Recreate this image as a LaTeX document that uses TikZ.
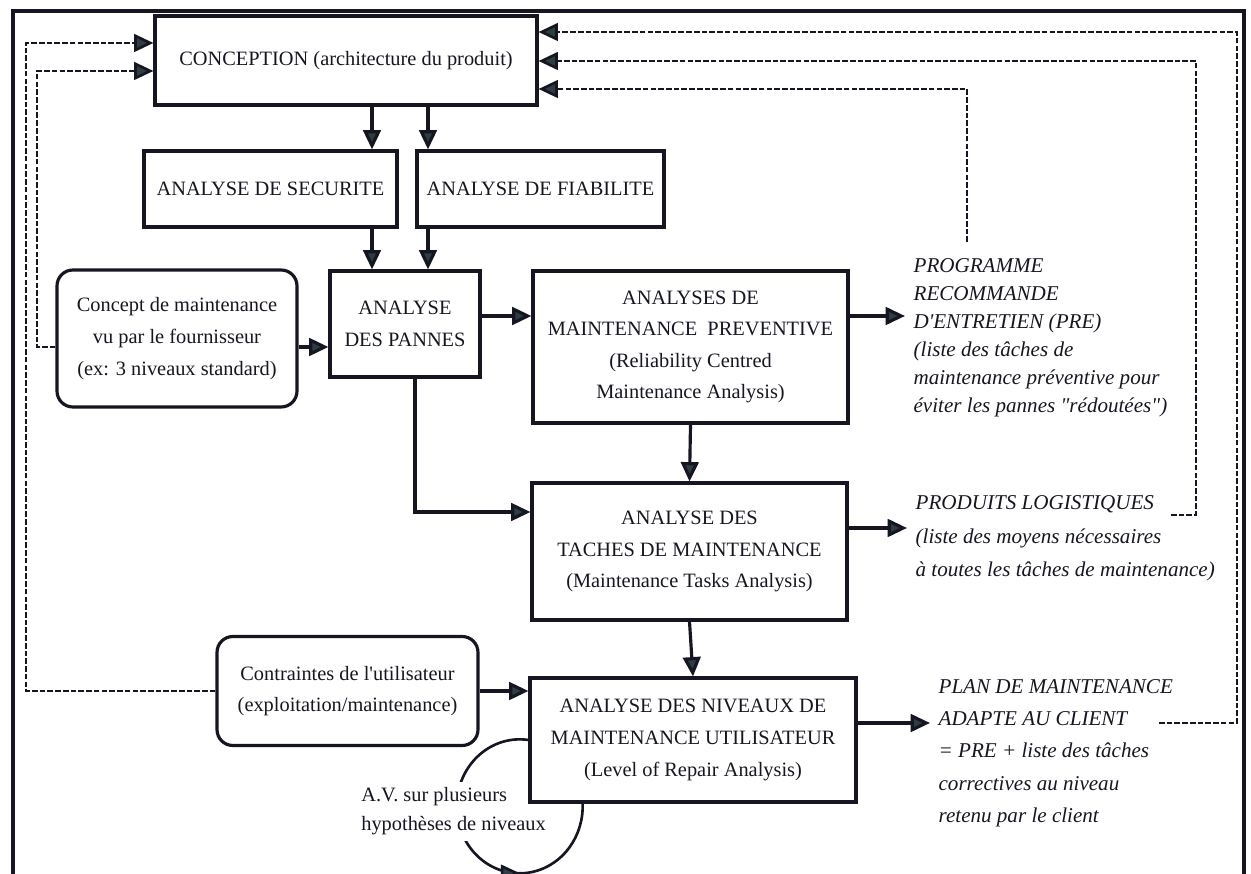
\documentclass[tikz,border=0pt]{standalone}
\usepackage{fontspec}
\setmainfont{Liberation Serif}
\usepackage{tikz}
\usetikzlibrary{arrows.meta,decorations.markings}

\definecolor{tipfill}{RGB}{45,62,64}
\definecolor{ink}{RGB}{22,22,34}
\newcommand{\boxfont}{\fontsize{11.6}{18}\selectfont}

\begin{document}
\begin{tikzpicture}[->,>={Triangle[length=11pt,width=10pt,fill=tipfill]},
    x=0.02cm,y=0.02cm,line width=1.8pt,color=ink,
    box/.style={draw,rectangle,align=center,font=\boxfont,inner sep=2pt},
    softbox/.style={box,rounded corners=9pt},
    note/.style={anchor=west,align=left,inner xsep=4pt,inner ysep=0pt,
        font=\fontsize{12}{#1}\selectfont\itshape},
    feedback/.style={dash pattern=on 3.2pt off 1.2pt,line width=1.5pt}]

  \useasboundingbox (0,0) rectangle (1251,-874);
  \draw[-] (13,-880) -- (13,-11) -- (1244,-11) -- (1244,-880);

  % boxes
  \node[box,minimum width=7.64cm,minimum height=1.78cm] (concep) at (346,-60.5)
        {CONCEPTION (architecture du produit)};
  \node[box,minimum width=5.06cm,minimum height=1.52cm] (secur) at (270.5,-189) {ANALYSE DE SECURITE};
  \node[box,minimum width=4.94cm,minimum height=1.52cm] (fiab) at (540.5,-189) {ANALYSE DE FIABILITE};
  \node[box,minimum width=3.0cm,minimum height=2.12cm] (pannes) at (405,-324) {ANALYSE\\DES PANNES};
  \node[softbox,minimum width=4.8cm,minimum height=2.74cm] (concept) at (177,-338.5)
        {Concept de maintenance\\vu par le fournisseur\\(ex: 3 niveaux standard)};
  \node[box,minimum width=6.3cm,minimum height=3.04cm] (prev) at (690.5,-347)
        {ANALYSES DE\\MAINTENANCE~~PREVENTIVE\\(Reliability Centred\\Maintenance Analysis)};
  \node[box,minimum width=6.3cm,minimum height=2.74cm] (taches) at (689.5,-551.5)
        {ANALYSE DES\\TACHES DE MAINTENANCE\\(Maintenance Tasks Analysis)};
  \node[box,minimum width=6.52cm,minimum height=2.48cm] (niveaux) at (693,-740)
        {ANALYSE DES NIVEAUX DE\\MAINTENANCE UTILISATEUR\\(Level of Repair Analysis)};
  \node[softbox,minimum width=5.22cm,minimum height=2.18cm] (contr) at (347.5,-691)
        {Contraintes de l\textquotesingle utilisateur\\(exploitation/maintenance)};

  % results
  \node[note=15.9] (prog) at (905,-338) {PROGRAMME\\RECOMMANDE\\D\textquotesingle ENTRETIEN (PRE)\\(liste des tâches de\\maintenance préventive pour\\éviter les pannes \textquotedbl rédoutées\textquotedbl)};
  \node[note=19] (prod) at (907,-538.5) {PRODUITS LOGISTIQUES\\(liste des moyens nécessaires\\à toutes les tâches de maintenance)};
  \node[note=18.4] (plan) at (930,-753) {PLAN DE MAINTENANCE\\ADAPTE AU CLIENT\\= PRE + liste des tâches\\correctives au niveau\\retenu par le client};

  \coordinate (c1) at (372,0);
  \coordinate (c2) at (428,0);
  \coordinate (c3) at (415,0);
  \coordinate (r1) at (0,-347);
  \coordinate (r2) at (0,-316);
  \coordinate (r3) at (0,-512);
  \coordinate (r4) at (0,-528);
  \coordinate (r5) at (0,-723);
  \coordinate (fl1) at (26,-43);
  \coordinate (fl2) at (37,-71);
  \coordinate (fr1) at (1237,-32);
  \coordinate (fr2) at (1196,-61);
  \coordinate (fr3) at (967,-89);
  \coordinate (e1) at (967,-242);
  \coordinate (e2) at (1171,-515);
  \coordinate (e3) at (1159,-723);

  % flow
  \draw (concep.south -| c1) -- (secur.north -| c1);
  \draw (concep.south -| c2) -- (fiab.north -| c2);
  \draw (secur.south -| c1) -- (pannes.north -| c1);
  \draw (fiab.south -| c2) -- (pannes.north -| c2);
  \draw (concept.east |- r1) -- (pannes.west |- r1);
  \draw (pannes.east |- r2) -- (prev.west |- r2);
  \draw (prev.east |- r2) -- (prog.west |- r2);
  \draw (prev.south) -- (taches.north);
  \draw (pannes.south -| c3) |- (taches.west |- r3);
  \draw (taches.east |- r4) -- (prod.west |- r4);
  \draw (taches.south) -- (niveaux.north);
  \draw (contr.east) -- (niveaux.west |- contr.east);
  \draw (niveaux.east |- r5) -- (plan.west |- r5);

  % feedback to the design
  \draw[feedback] (contr.west) -| (fl1) -- (concep.west |- fl1);
  \draw[feedback] (concept.west |- r1) -| (fl2) -- (concep.west |- fl2);
  \draw[feedback] (e1) |- (concep.east |- fr3);
  \draw[feedback] (e2) -| (fr2) -- (concep.east |- fr2);
  \draw[feedback] (e3) -| (fr1) -- (concep.east |- fr1);

  % iteration loop
  \draw[-,line width=1.5pt,decoration={markings,mark=at position 0.67 with {\arrow{>}}},postaction=decorate]
    (niveaux.west) arc[start angle=82,end angle=363,x radius=1.26cm,y radius=1.34cm];
  \node[fill=white,font=\boxfont,anchor=west,inner xsep=1pt,inner ysep=3.5pt] (av1) at (358,-797) {A.V. sur plusieurs};
  \node[fill=white,font=\boxfont,anchor=west,inner xsep=1pt,inner ysep=3.5pt] (av2) at (358,-826) {hypothèses de niveaux};
\end{tikzpicture}
\end{document}
